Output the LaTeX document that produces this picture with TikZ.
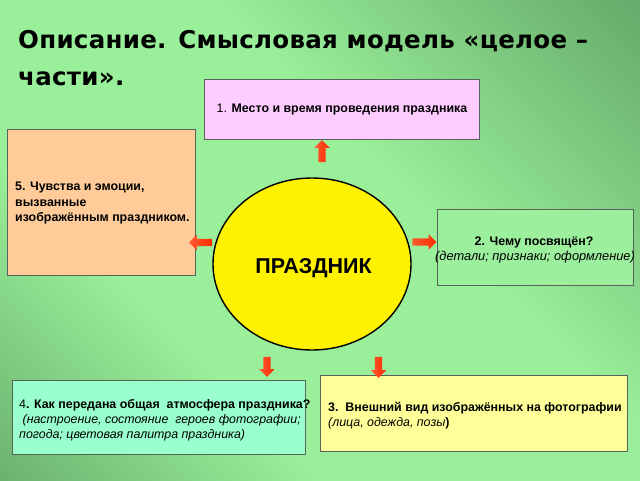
\documentclass[tikz,border=0pt]{standalone}
\usepackage{fontspec}
\setmainfont{Liberation Sans}
\newfontfamily\titlefont[LetterSpace=1.2]{DejaVu Sans}
\usetikzlibrary{shapes.geometric,shapes.arrows}
\definecolor{bglight}{HTML}{9AF09A}
\definecolor{bgdark}{HTML}{4A8650}
\definecolor{boxborder}{HTML}{58625A}
\definecolor{pinkbox}{HTML}{FFCCFF}
\definecolor{peachbox}{HTML}{FFCC99}
\definecolor{greenbox}{HTML}{9CEF9C}
\definecolor{aquabox}{HTML}{99FFCC}
\definecolor{yellowbox}{HTML}{FFFF99}
\definecolor{arrowtip}{HTML}{FF2A00}
\definecolor{arrowtail}{HTML}{FF5A30}
\pgfdeclareverticalshading{bgsh}{100bp}{color(0bp)=(bgdark); color(35bp)=(bglight); color(58bp)=(bglight); color(100bp)=(bgdark)}
\tikzset{
  box/.style={draw=boxborder, line width=0.8pt, inner sep=0, anchor=north west},
  txt/.style={inner sep=0, anchor=base west, font=\fontsize{12.4}{15}\selectfont\bfseries},
  ital/.style={inner sep=0, anchor=base west, font=\fontsize{12.4}{15}\selectfont\itshape},
  blockarrow/.style={single arrow, single arrow head extend=4pt, single arrow head indent=0pt,
    inner xsep=0pt, inner ysep=3.5pt, shade, left color=arrowtail, right color=arrowtip, draw=none}
}
\begin{document}
\begin{tikzpicture}[x=1pt,y=-1pt]
\useasboundingbox (0,0) rectangle (640,480);
\shade[shading=bgsh, shading angle=-45] (0,0) rectangle (640,480);
% title
\node[inner sep=0, anchor=base west, font=\titlefont\fontsize{24.5}{28}\selectfont\bfseries] (t1) at (18,48) {Описание. Смысловая модель «целое –};
\node[inner sep=0, anchor=base west, font=\titlefont\fontsize{24.5}{28}\selectfont\bfseries] (t2) at (18,85) {части».};
% boxes
\node[box, fill=pinkbox, minimum width=275pt, minimum height=60pt] (b1) at (203.5,78.5) {};
\node[box, fill=peachbox, minimum width=188pt, minimum height=146pt] (b5) at (6.5,128.5) {};
\node[box, fill=greenbox, minimum width=196pt, minimum height=76pt] (b2) at (436.5,209) {};
\node[box, fill=aquabox, minimum width=293pt, minimum height=74pt] (b4) at (12,380) {};
\node[box, fill=yellowbox, minimum width=307pt, minimum height=76pt] (b3) at (320,375) {};
% circle
\node[ellipse, draw=black, line width=1.4pt, fill=yellow, minimum width=198pt, minimum height=172pt, inner sep=0] (c) at (312,264) {};
\node[inner sep=0, anchor=base, font=\fontsize{21.5}{24}\selectfont\bfseries] (ct) at (313.5,273) {ПРАЗДНИК};
% box texts
\node[txt] (l1) at (216.5,112.3) {\mdseries 1. \bfseries Место и время проведения праздника};
\node[txt] (l5a) at (15,190) {5. Чувства и эмоции,};
\node[txt] (l5b) at (15,206) {вызванные};
\node[txt] (l5c) at (15,221.5) {изображённым праздником.};
\node[txt, anchor=base] (l2a) at (534,245) {2. Чему посвящён?};
\node[ital, anchor=base, font=\fontsize{12.8}{15}\selectfont\itshape] (l2b) at (535,260) {(детали; признаки; оформление)};
\node[txt] (l4a) at (19,408) {\mdseries 4\bfseries. Как передана общая\ \ атмосфера праздника?};
\node[ital] (l4b) at (19,423) {\ (настроение, состояние\ \ героев фотографии;};
\node[ital] (l4c) at (19,438) {погода; цветовая\ палитра праздника)};
\node[txt] (l3a) at (328,411.5) {3.\ \ Внешний вид изображённых на фотографии};
\node[ital] (l3b) at (328,426) {(лица, одежда, позы\upshape\bfseries)};
% arrows
\node[blockarrow, minimum height=22pt, rotate=90] (a1) at (322,153) {};
\node[blockarrow, minimum height=24pt] (a2) at (422.5,242) {};
\node[blockarrow, minimum height=21pt, rotate=-90] (a3) at (378.5,365.5) {};
\node[blockarrow, minimum height=20pt, rotate=-90] (a4) at (267,365) {};
\node[blockarrow, minimum height=23pt, rotate=180] (a5) at (202.5,242.5) {};
\end{tikzpicture}
\end{document}
